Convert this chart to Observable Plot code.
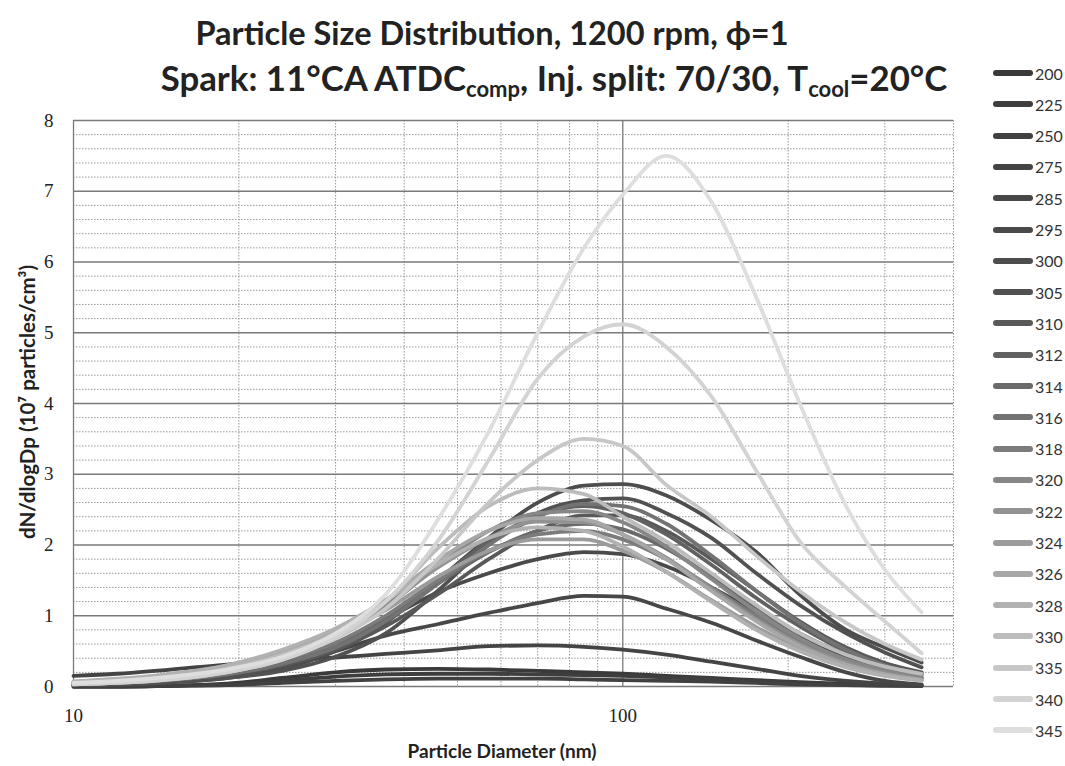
<!DOCTYPE html>
<html><head><meta charset="utf-8">
<script src="https://cdn.jsdelivr.net/npm/d3@7"></script>
<script src="https://cdn.jsdelivr.net/npm/@observablehq/plot@0.6"></script>
<style>
body{margin:0;background:#fff;width:1065px;height:766px;overflow:hidden;position:relative;font-family:Lato,"Open Sans",sans-serif;color:#222}
.t{position:absolute;white-space:nowrap;font-weight:700;font-size:32.5px;transform:translateX(-50%);line-height:1}
.t sub{font-size:22px;vertical-align:-6px;line-height:0}
#chart{position:absolute;left:0;top:100px}
.axl{position:absolute;white-space:nowrap;font-weight:700;font-size:19px;line-height:1}
#legend{position:absolute;left:0;top:0}
.li{position:absolute;left:993px;height:20px;display:flex;align-items:center;font-size:16px;color:#333}
.li span.sw{display:inline-block;width:40px;height:6px;border-radius:3px;margin-right:2px}
</style></head>
<body>
<div class="t" style="left:492px;top:17px">Particle Size Distribution, 1200 rpm, ϕ=1</div>
<div class="t" style="left:554px;top:61px;font-size:34.8px">Spark: 11°CA ATDC<sub>comp</sub>, Inj. split: 70/30, T<sub>cool</sub>=20°C</div>
<div id="chart"></div>
<div class="axl" style="left:502px;top:741px;transform:translateX(-50%)">Particle Diameter (nm)</div>
<div class="axl" style="left:27px;top:402px;font-size:20.5px;transform:translate(-50%,-50%) rotate(-90deg)">dN/dlogDp (10⁷ particles/cm³)</div>
<div id="legend"></div>
<script>
const diameters = [10, 12, 15, 19, 24, 30, 37, 46, 57, 70, 85, 100, 120, 145, 175, 210, 255, 300, 350];
const series = ["200","225","250","275","285","295","300","305","310","312","314","316","318","320","322","324","326","328","330","335","340","345"];
const colors = ["#3a3a3a","#3e3e3e","#414141","#444444","#474747","#4a4a4a","#4d4d4d","#515151","#595959","#616161","#6a6a6a","#737373","#7c7c7c","#878787","#929292","#9c9c9c","#a7a7a7","#b1b1b1","#bcbcbc","#c7c7c7","#d3d3d3","#dedede"];
const yTicks = [0,1,2,3,4,5,6,7,8];
const xTicks = [10,100];
const xMinor = [20,30,40,50,60,70,80,90,200,300,400];

const v200 = [0, 0, 0.01, 0.04, 0.12, 0.2, 0.24, 0.25, 0.24, 0.22, 0.2, 0.18, 0.15, 0.12, 0.09, 0.06, 0.04, 0.02, 0.01];
const v225 = [0, 0, 0.01, 0.03, 0.08, 0.14, 0.17, 0.18, 0.18, 0.17, 0.16, 0.15, 0.13, 0.1, 0.08, 0.05, 0.03, 0.02, 0.01];
const v250 = [0, 0, 0.01, 0.02, 0.05, 0.08, 0.1, 0.11, 0.11, 0.11, 0.1, 0.09, 0.08, 0.07, 0.05, 0.03, 0.02, 0.01, 0.01];
const v275 = [0.15, 0.18, 0.24, 0.31, 0.36, 0.41, 0.46, 0.51, 0.57, 0.58, 0.56, 0.52, 0.45, 0.35, 0.25, 0.15, 0.08, 0.04, 0.02];
const v285 = [0.03, 0.05, 0.09, 0.18, 0.32, 0.5, 0.72, 0.88, 1.04, 1.18, 1.28, 1.27, 1.1, 0.9, 0.65, 0.42, 0.2, 0.08, 0.03];
const v295 = [0.02, 0.04, 0.08, 0.16, 0.3, 0.55, 0.95, 1.33, 1.6, 1.8, 1.9, 1.87, 1.7, 1.4, 1.05, 0.7, 0.4, 0.22, 0.12];
const v300 = [0.02, 0.03, 0.06, 0.12, 0.25, 0.5, 0.9, 1.5, 2.1, 2.6, 2.84, 2.86, 2.7, 2.35, 1.9, 1.3, 0.8, 0.55, 0.34];
const v305 = [0.02, 0.03, 0.06, 0.12, 0.22, 0.42, 0.75, 1.35, 2.0, 2.45, 2.63, 2.66, 2.45, 2.1, 1.6, 1.15, 0.75, 0.48, 0.27];
const v310 = [0.03, 0.05, 0.09, 0.17, 0.3, 0.52, 0.85, 1.3, 1.8, 2.2, 2.42, 2.42, 2.2, 1.8, 1.35, 0.92, 0.55, 0.33, 0.2];
const v312 = [0.04, 0.06, 0.1, 0.19, 0.33, 0.57, 0.95, 1.5, 2.05, 2.42, 2.55, 2.45, 2.15, 1.72, 1.25, 0.85, 0.5, 0.3, 0.18];
const v314 = [0.04, 0.06, 0.11, 0.2, 0.35, 0.6, 0.98, 1.45, 1.9, 2.2, 2.3, 2.22, 1.95, 1.55, 1.12, 0.75, 0.45, 0.27, 0.16];
const v316 = [0.03, 0.05, 0.09, 0.17, 0.32, 0.55, 0.92, 1.45, 2.0, 2.4, 2.58, 2.55, 2.3, 1.85, 1.35, 0.9, 0.52, 0.3, 0.17];
const v318 = [0.05, 0.07, 0.12, 0.22, 0.38, 0.62, 1.0, 1.5, 1.92, 2.15, 2.2, 2.08, 1.8, 1.4, 1.0, 0.65, 0.38, 0.22, 0.13];
const v320 = [0.05, 0.08, 0.13, 0.24, 0.42, 0.7, 1.12, 1.7, 2.2, 2.45, 2.48, 2.32, 1.98, 1.52, 1.06, 0.68, 0.38, 0.22, 0.12];
const v322 = [0.06, 0.09, 0.15, 0.26, 0.45, 0.75, 1.15, 1.68, 2.1, 2.33, 2.32, 2.15, 1.82, 1.38, 0.95, 0.6, 0.33, 0.19, 0.1];
const v324 = [0.06, 0.09, 0.15, 0.26, 0.44, 0.72, 1.08, 1.55, 1.92, 2.08, 2.08, 1.92, 1.62, 1.22, 0.84, 0.53, 0.3, 0.17, 0.09];
const v326 = [0.07, 0.1, 0.17, 0.29, 0.5, 0.8, 1.22, 1.78, 2.2, 2.38, 2.36, 2.15, 1.8, 1.35, 0.92, 0.57, 0.31, 0.17, 0.09];
const v328 = [0.07, 0.11, 0.18, 0.3, 0.52, 0.82, 1.22, 1.72, 2.1, 2.25, 2.2, 1.98, 1.62, 1.2, 0.8, 0.5, 0.27, 0.15, 0.08];
const v330 = [0.05, 0.08, 0.14, 0.25, 0.45, 0.75, 1.2, 1.95, 2.55, 2.8, 2.72, 2.4, 2.05, 1.6, 1.15, 0.75, 0.45, 0.28, 0.18];
const v335 = [0.03, 0.05, 0.1, 0.2, 0.38, 0.68, 1.1, 1.8, 2.6, 3.2, 3.5, 3.4, 2.85, 2.4, 1.85, 1.35, 0.9, 0.6, 0.38];
const v340 = [0.03, 0.05, 0.1, 0.2, 0.38, 0.7, 1.2, 2.05, 3.2, 4.35, 4.95, 5.12, 4.8, 4.1, 3.05, 2.05, 1.4, 0.92, 0.47];
const v345 = [0.05, 0.08, 0.14, 0.24, 0.42, 0.75, 1.3, 2.35, 3.6, 5.0, 6.2, 6.95, 7.5, 6.85, 5.5, 4.0, 2.55, 1.65, 1.05];

const valueLists = [v200,v225,v250,v275,v285,v295,v300,v305,v310,v312,v314,v316,v318,v320,v322,v324,v326,v328,v330,v335,v340,v345];
const data = series.flatMap((s, i) => diameters.map((d, j) => ({series: s, d, v: valueLists[i][j]})));
const yMinor = d3.range(0, 8.001, 0.2).filter(v => Math.abs(v - Math.round(v)) > 1e-6);

const plot = Plot.plot({
  width: 960, height: 666,
  marginLeft: 73, marginRight: 7, marginTop: 20, marginBottom: 80,
  style: {fontFamily: '"Liberation Serif", serif', fontSize: "19px", color: "#222", background: "transparent"},
  x: {type: "log", domain: [10, 400], ticks: xTicks, tickFormat: d => String(d), tickSize: 0, tickPadding: 22, label: null},
  y: {domain: [0, 8], ticks: yTicks, tickSize: 0, tickPadding: 20, label: null},
  color: {type: "ordinal", domain: series, range: colors},
  marks: [
    Plot.ruleY(yMinor, {stroke: "#999", strokeWidth: 1, strokeDasharray: "1.5,1.5"}),
    Plot.ruleX(xMinor, {stroke: "#999", strokeWidth: 1, strokeDasharray: "1.5,1.5"}),
    Plot.ruleY(yTicks, {stroke: "#7a7a7a", strokeWidth: 1.3}),
    Plot.ruleX(xTicks, {stroke: "#7a7a7a", strokeWidth: 1.3}),
    Plot.line(data, {x: "d", y: "v", z: "series", stroke: "series", strokeWidth: 3.8, curve: "monotone-x"})
  ]
});
document.getElementById("chart").appendChild(plot);

const legend = document.getElementById("legend");
series.forEach((s, i) => {
  const row = document.createElement("div");
  row.className = "li";
  row.style.top = (63 + i * 31.3) + "px";
  row.innerHTML = `<span class="sw" style="background:${colors[i]}"></span><span>${s}</span>`;
  legend.appendChild(row);
});
</script>
</body></html>
